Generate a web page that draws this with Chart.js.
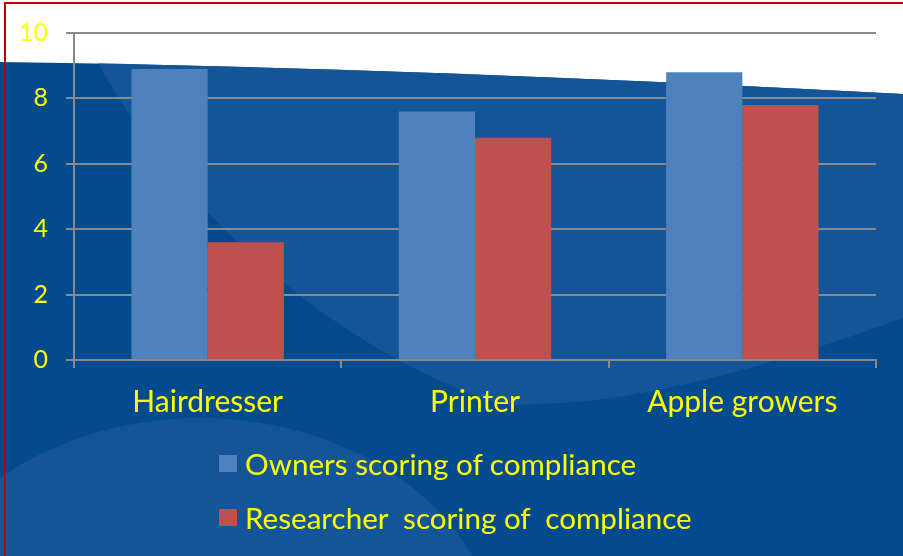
<!DOCTYPE html>
<html>
<head>
<meta charset="utf-8">
<title>Compliance scoring</title>
<script src="https://cdn.jsdelivr.net/npm/chart.js@4"></script>
<style>
  html, body { margin: 0; padding: 0; background: #fff; }
  #wrap { position: relative; width: 903px; height: 556px; overflow: hidden; }
  #legend {
    position: absolute; left: 219px; top: 436px;
    font-family: Lato, "Open Sans", sans-serif; font-size: 29.6px; color: #ffff00;
  }
  #legend .item { display: flex; align-items: center; height: 54px; white-space: pre; }
  #legend .box { width: 18px; height: 17px; margin-right: 8px; }
</style>
</head>
<body>
<div id="wrap">
  <canvas id="chart" width="903" height="556"></canvas>
  <div id="legend"></div>
</div>
<script>
// data
const categories = ['Hairdresser', 'Printer', 'Apple growers'];
const ownersScores = [8.9, 7.6, 8.8];
const researcherScores = [3.6, 6.8, 7.8];
const seriesNames = ['Owners scoring of compliance', 'Researcher  scoring of  compliance'];
const yTicks = [0, 2, 4, 6, 8, 10];

const gridGray = '#8a8a8a';
const yellow = '#ffff00';

// slide background (white swoosh over blue, lighter blue shapes)
const slideBackground = {
  id: 'slideBackground',
  beforeDraw(chart) {
    const c = chart.ctx;
    const w = chart.width, h = chart.height;
    c.save();
    c.fillStyle = '#ffffff';
    c.fillRect(0, 0, w, h);

    c.beginPath();
    c.moveTo(0, 62);
    c.bezierCurveTo(300, 66, 600, 78, w, 94);
    c.lineTo(w, h);
    c.lineTo(0, h);
    c.closePath();
    c.fillStyle = '#034b8d';
    c.fill();
    c.clip();

    c.fillStyle = '#135597';
    // big light sweep in the middle
    c.beginPath();
    c.moveTo(98, 40);
    c.lineTo(98, 62);
    c.bezierCurveTo(170, 200, 330, 350, 500, 404);
    c.bezierCurveTo(640, 410, 800, 355, w, 318);
    c.lineTo(w, 40);
    c.closePath();
    c.fill();
    // light ellipse bottom left
    c.beginPath();
    c.ellipse(200, 650, 298, 232, 0, 0, Math.PI * 2);
    c.fill();
    c.restore();
  },
  afterDraw(chart) {
    const c = chart.ctx;
    c.save();
    c.fillStyle = '#c00000';
    c.fillRect(4, 2, 2, chart.height);
    c.fillRect(4, 2, chart.width, 2);
    c.restore();
  }
};

const chart = new Chart(document.getElementById('chart'), {
  type: 'bar',
  data: {
    labels: categories,
    datasets: [
      { label: seriesNames[0], data: ownersScores, backgroundColor: '#4f81bd' },
      { label: seriesNames[1], data: researcherScores, backgroundColor: '#c0504d' }
    ]
  },
  options: {
    responsive: false,
    animation: false,
    layout: { padding: { top: 33, right: 27, bottom: 136, left: 0 } },
    datasets: { bar: { categoryPercentage: 0.57, barPercentage: 1.0 } },
    plugins: {
      legend: { display: false },
      tooltip: { enabled: false }
    },
    scales: {
      x: {
        afterFit: s => { s.height = 60; },
        grid: { drawOnChartArea: false, drawTicks: true, tickLength: 8, color: gridGray, lineWidth: 2, offset: true },
        border: { color: gridGray, width: 2 },
        ticks: { color: yellow, padding: 16, font: { family: 'Lato', size: 30 } }
      },
      y: {
        min: 0,
        max: 10,
        afterFit: s => { s.width = 74; },
        afterBuildTicks: s => { s.ticks = yTicks.map(v => ({ value: v })); },
        grid: { color: gridGray, lineWidth: 2, tickLength: 8 },
        border: { color: gridGray, width: 2 },
        ticks: { color: yellow, padding: 18, font: { family: 'Lato', size: 25 } }
      }
    }
  },
  plugins: [slideBackground]
});

// legend stacked under the chart, built from the datasets
const legend = document.getElementById('legend');
chart.data.datasets.forEach(ds => {
  const item = document.createElement('div');
  item.className = 'item';
  const box = document.createElement('span');
  box.className = 'box';
  box.style.background = ds.backgroundColor;
  const text = document.createElement('span');
  text.textContent = ds.label;
  item.appendChild(box);
  item.appendChild(text);
  legend.appendChild(item);
});
</script>
</body>
</html>
